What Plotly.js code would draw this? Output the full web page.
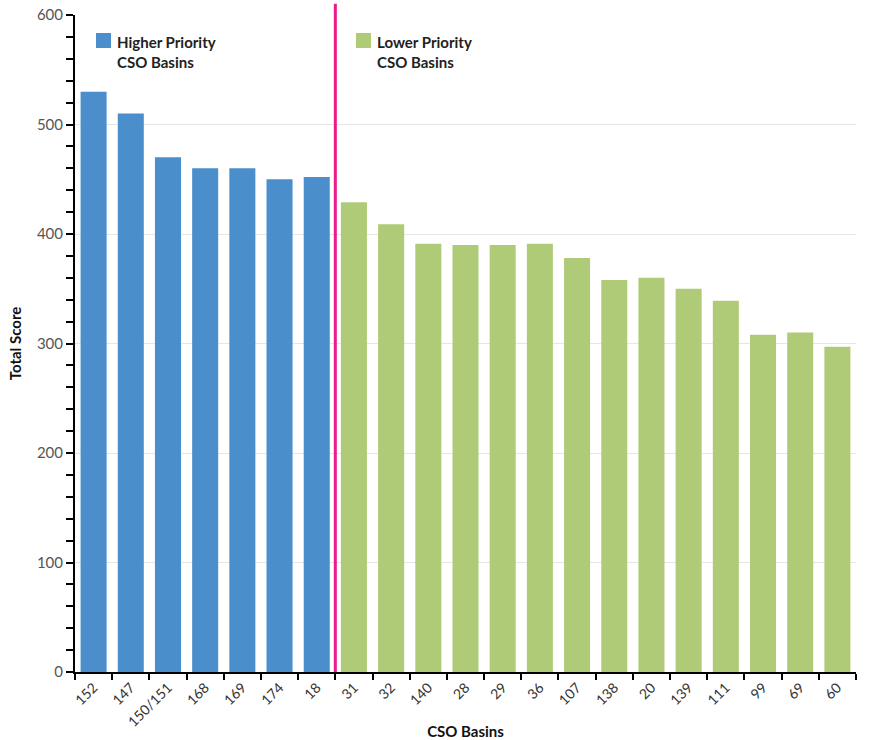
<!DOCTYPE html>
<html>
<head>
<meta charset="utf-8">
<script src="https://cdn.plot.ly/plotly-3.0.1.min.js"></script>
<style>html,body{margin:0;padding:0;background:#fff;}#chart{width:882px;height:740px;}</style>
</head>
<body>
<div id="chart"></div>
<script>
const higherBasins = ["152", "147", "150/151", "168", "169", "174", "18"];
const higherScores = [530, 510, 470, 460, 460, 450, 452];
const lowerBasins = ["31", "32", "140", "28", "29", "36", "107", "138", "20", "139", "111", "99", "69", "60"];
const lowerScores = [429, 409, 391, 390, 390, 391, 378, 358, 360, 350, 339, 308, 310, 297];
const higherLabel = "Higher Priority<br>CSO Basins";
const lowerLabel = "Lower Priority<br>CSO Basins";
const yTicks = [0, 100, 200, 300, 400, 500, 600];

const allBasins = higherBasins.concat(lowerBasins);
const FONT = "Lato, 'Open Sans', sans-serif";

const traces = [
  {type: "bar", x: higherBasins, y: higherScores, name: "Higher Priority CSO Basins",
   marker: {color: "#4a8fcb"}, showlegend: false, hoverinfo: "x+y"},
  {type: "bar", x: lowerBasins, y: lowerScores, name: "Lower Priority CSO Basins",
   marker: {color: "#b0cb78"}, showlegend: false, hoverinfo: "x+y"}
];

const layout = {
  width: 882, height: 740,
  margin: {l: 75, r: 26, t: 15, b: 68},
  paper_bgcolor: "#fff", plot_bgcolor: "#fff",
  font: {family: FONT, color: "#444", size: 14},
  bargap: 0.3,
  xaxis: {
    type: "category", categoryorder: "array", categoryarray: allBasins,
    range: [-0.5, allBasins.length - 0.5],
    tickson: "boundaries", ticks: "outside", ticklen: 6, tickwidth: 2, tickcolor: "#000",
    showline: true, linecolor: "#000", linewidth: 2,
    tickangle: -45, tickfont: {size: 14, color: "#333", family: FONT},
    showgrid: false, automargin: false,
    title: {text: "<b>CSO Basins</b>", font: {size: 15, color: "#111", family: FONT}, standoff: 6}
  },
  yaxis: {
    range: [0, 600], tickvals: yTicks, ticktext: yTicks.map(String),
    ticks: "outside", ticklen: 7, tickwidth: 2, tickcolor: "#000",
    showline: true, linecolor: "#000", linewidth: 2,
    tickfont: {size: 15, color: "#555", family: FONT},
    showgrid: true, gridcolor: "#e6e6e6", gridwidth: 1,
    zeroline: false, automargin: false,
    minor: {dtick: 20, ticks: "outside", ticklen: 7, tickwidth: 2, tickcolor: "#000", showgrid: false},
    title: {text: "<b>Total Score</b>", font: {size: 15, color: "#111", family: FONT}, standoff: 12}
  },
  shapes: [
    {type: "line", xref: "x", yref: "paper", x0: 6.5, x1: 6.5, y0: 0, y1: 1.017,
     line: {color: "#ec1a8a", width: 3}, layer: "above"},
    {type: "rect", xref: "paper", yref: "paper", x0: 0.0269, x1: 0.0461, y0: 0.9726, y1: 0.9498,
     fillcolor: "#4a8fcb", line: {width: 0}},
    {type: "rect", xref: "paper", yref: "paper", x0: 0.3598, x1: 0.379, y0: 0.9726, y1: 0.9498,
     fillcolor: "#b0cb78", line: {width: 0}}
  ],
  annotations: [
    {xref: "paper", yref: "paper", x: 0.0512, y: 0.9757, xanchor: "left", yanchor: "top", align: "left",
     text: "<b>" + higherLabel + "</b>", showarrow: false, font: {size: 15, color: "#222", family: FONT}},
    {xref: "paper", yref: "paper", x: 0.3841, y: 0.9757, xanchor: "left", yanchor: "top", align: "left",
     text: "<b>" + lowerLabel + "</b>", showarrow: false, font: {size: 15, color: "#222", family: FONT}}
  ]
};

Plotly.newPlot("chart", traces, layout, {displayModeBar: false, staticPlot: true});
</script>
</body>
</html>
